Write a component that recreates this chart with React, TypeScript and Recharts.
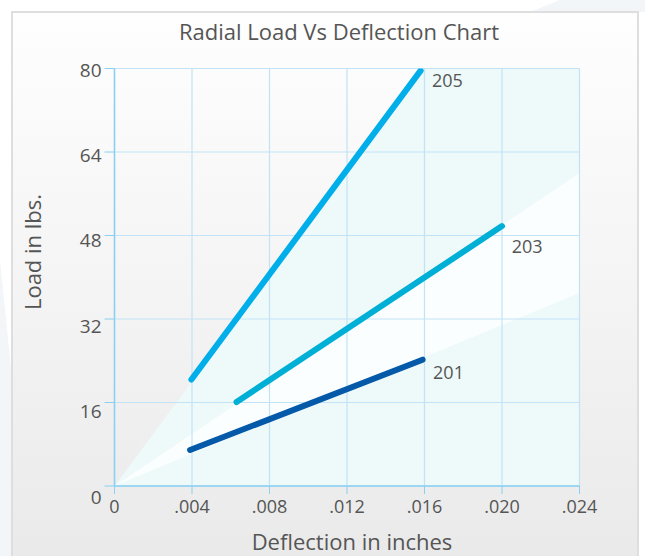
import React from "react";
import {
  ComposedChart,
  Line,
  Area,
  XAxis,
  YAxis,
  CartesianGrid,
  LabelList,
  Label,
} from "recharts";

// ---- data ----
const xTicks = [0, 0.004, 0.008, 0.012, 0.016, 0.02, 0.024];
const xTickLabels = ["0", ".004", ".008", ".012", ".016", ".020", ".024"];
const yTicks = [0, 16, 32, 48, 64, 80];

const series205 = [
  { x: 0.00397, y: 20.4 },
  { x: 0.0158, y: 79.6 },
];
const series203 = [
  { x: 0.0063, y: 16.1 },
  { x: 0.02, y: 49.8 },
];
const series201 = [
  { x: 0.0039, y: 6.9 },
  { x: 0.0159, y: 24.2 },
];

// background fan rays from the origin
const fanX = [0, 0.016, 0.024];
const fan205 = [0, 80, 80];
const fan203 = [0, 40, 60];
const fan201 = [0, 24.7, 37];
const fanData = fanX.map((x, i) => ({ x, a: fan205[i], b: fan203[i], c: fan201[i] }));

const FONT = "'Open Sans', sans-serif";
const TEXT = "#555555";
const AXIS = "#8ad0f2";
const GRID = "#c1e3f5";

const XTick = (props: any) => {
  const { x, y, payload } = props;
  const idx = xTicks.indexOf(payload.value);
  return (
    <text x={x} y={y} dy={17} textAnchor="middle" fill={TEXT} fontSize={18} fontFamily={FONT}>
      {idx >= 0 ? xTickLabels[idx] : ""}
    </text>
  );
};

const YTick = (props: any) => {
  const { x, y, payload } = props;
  const shift = 1.5 + (80 - payload.value) * 0.12;
  return (
    <text x={x} y={y + shift} dy={6.5} textAnchor="end" fill={TEXT} fontSize={19} fontFamily={FONT}>
      {payload.value}
    </text>
  );
};

const endLabel = (text: string, dx: number, dy: number) => (props: any) => {
  if (props.index !== 1) return null;
  return (
    <text
      x={props.x + dx}
      y={props.y + dy}
      dy={6}
      textAnchor="start"
      fill={TEXT}
      fontSize={18}
      fontFamily={FONT}
    >
      {text}
    </text>
  );
};

export default function App() {
  return (
    <div style={{ position: "absolute", left: 0, top: 0, width: 645, height: 556, overflow: "hidden", background: "#ffffff" }}>
      {/* faint page decorations */}
      <div
        style={{
          position: "absolute",
          left: 0,
          top: 0,
          width: 645,
          height: 556,
          background: "#f2f6f9",
          clipPath: "polygon(0px 260px, 30px 556px, 0px 556px)",
        }}
      />
      <div
        style={{
          position: "absolute",
          left: 0,
          top: 0,
          width: 645,
          height: 556,
          background: "#f2f6f9",
          clipPath: "polygon(530px 12px, 560px 0px, 645px 0px, 645px 12px)",
        }}
      />
      <div
        style={{
          position: "absolute",
          left: 11,
          top: 11,
          width: 628,
          height: 570,
          border: "2px solid #dedede",
          background: "linear-gradient(#fefefe 0%, #f4f4f4 50%, #e9e9e9 100%)",
          boxSizing: "border-box",
        }}
      />
      <div
        style={{
          position: "absolute",
          left: 0,
          top: 16,
          width: 678,
          textAlign: "center",
          fontFamily: FONT,
          fontSize: 22,
          color: TEXT,
        }}
      >
        Radial Load Vs Deflection Chart
      </div>
      {/* background fan, drawn beneath the grid */}
      <div style={{ position: "absolute", left: 0, top: 0 }}>
        <ComposedChart
          width={645}
          height={556}
          data={fanData}
          margin={{ top: 68.5, right: 65.5, bottom: 70, left: 114.5 }}
        >
          <XAxis dataKey="x" type="number" domain={[0, 0.024]} hide allowDataOverflow />
          <YAxis type="number" domain={[0, 80]} hide allowDataOverflow />
          <Area dataKey="a" type="linear" stroke="none" fill="#eef9fa" fillOpacity={1} isAnimationActive={false} />
          <Area dataKey="b" type="linear" stroke="none" fill="#fafeff" fillOpacity={1} isAnimationActive={false} />
          <Area dataKey="c" type="linear" stroke="none" fill="#eef9fa" fillOpacity={1} isAnimationActive={false} />
        </ComposedChart>
      </div>
      <div style={{ position: "absolute", left: 0, top: 0 }}>
        <ComposedChart
          width={645}
          height={556}
          margin={{ top: 68.5, right: 65.5, bottom: 0, left: 14.5 }}
        >
          <XAxis
            dataKey="x"
            type="number"
            domain={[0, 0.024]}
            ticks={xTicks}
            interval={0}
            height={70}
            tickSize={8}
            tickMargin={2}
            axisLine={{ stroke: AXIS, strokeWidth: 1.5 }}
            tickLine={{ stroke: AXIS }}
            tick={<XTick />}
            allowDataOverflow
          >
            <Label
              content={() => (
                <text x={352} y={550} textAnchor="middle" fill={TEXT} fontSize={22} fontFamily={FONT}>
                  Deflection in inches
                </text>
              )}
            />
          </XAxis>
          <YAxis
            type="number"
            domain={[0, 80]}
            ticks={yTicks}
            interval={0}
            width={100}
            tickSize={10}
            tickMargin={3}
            axisLine={{ stroke: AXIS, strokeWidth: 1.5 }}
            tickLine={{ stroke: AXIS }}
            tick={<YTick />}
            allowDataOverflow
          >
            <Label
              content={() => (
                <text
                  transform="translate(41,252) rotate(-90)"
                  textAnchor="middle"
                  fill={TEXT}
                  fontSize={22}
                  fontFamily={FONT}
                >
                  Load in lbs.
                </text>
              )}
            />
          </YAxis>
          <CartesianGrid stroke={GRID} strokeWidth={1.2} horizontal vertical />
          <Line
            data={series201}
            dataKey="y"
            type="linear"
            stroke="#0459a9"
            strokeWidth={6}
            strokeLinecap="round"
            dot={false}
            isAnimationActive={false}
          >
            <LabelList dataKey="y" content={endLabel("201", 10.5, 13)} />
          </Line>
          <Line
            data={series203}
            dataKey="y"
            type="linear"
            stroke="#00afd6"
            strokeWidth={6}
            strokeLinecap="round"
            dot={false}
            isAnimationActive={false}
          >
            <LabelList dataKey="y" content={endLabel("203", 9.7, 20.6)} />
          </Line>
          <Line
            data={series205}
            dataKey="y"
            type="linear"
            stroke="#00aeea"
            strokeWidth={6}
            strokeLinecap="round"
            dot={false}
            isAnimationActive={false}
          >
            <LabelList dataKey="y" content={endLabel("205", 11.4, 10.4)} />
          </Line>
        </ComposedChart>
      </div>
    </div>
  );
}
